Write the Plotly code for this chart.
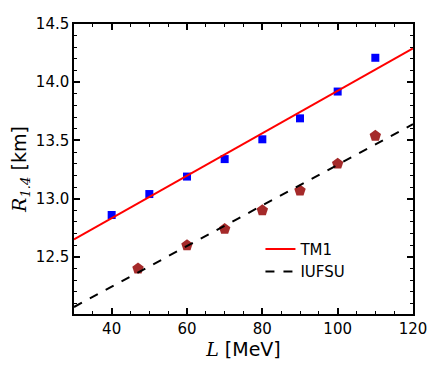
import plotly.graph_objects as go

# TM1 parameter set
tm1_L = [40, 50, 60, 70, 80, 90, 100, 110]
tm1_R = [12.86, 13.04, 13.19, 13.34, 13.51, 13.69, 13.92, 14.21]

# IUFSU parameter set
iufsu_L = [47, 60, 70, 80, 90, 100, 110]
iufsu_R = [12.40, 12.60, 12.74, 12.90, 13.07, 13.30, 13.54]

# linear fits, read at the plot edges
fit_L = [30, 120]
tm1_fit = [12.65, 14.29]
iufsu_fit = [12.07, 13.64]

fig = go.Figure()

fig.add_trace(go.Scatter(
    x=tm1_L, y=tm1_R, mode='markers', showlegend=False,
    marker=dict(symbol='square', size=8, color='#0000ff'),
))
fig.add_trace(go.Scatter(
    x=iufsu_L, y=iufsu_R, mode='markers', showlegend=False,
    marker=dict(symbol='pentagon', size=12, color='#a52a2a'),
))
fig.add_trace(go.Scatter(
    x=fit_L, y=tm1_fit, mode='lines', name='TM1',
    line=dict(color='#ff0000', width=2),
))
fig.add_trace(go.Scatter(
    x=fit_L, y=iufsu_fit, mode='lines', name='IUFSU',
    line=dict(color='black', width=2, dash='dash'),
))

axis_style = dict(
    showline=True, linecolor='black', linewidth=1.5, mirror='ticks',
    ticks='inside', ticklen=6, tickwidth=1.5, tickcolor='black',
    showgrid=False, zeroline=False,
    tickfont=dict(family='DejaVu Sans', size=15, color='black'),
)
math = '<span style="font-family:DejaVu Serif"><i>{}</i></span>'

fig.update_xaxes(
    range=[30, 120], tickvals=[40, 60, 80, 100, 120],
    minor=dict(dtick=5, ticks='inside', ticklen=3, tickwidth=1.2, tickcolor='black'),
    title=dict(text=math.format('L') + ' [MeV]', font=dict(family='DejaVu Sans', size=19, color='black'), standoff=4),
    **axis_style,
)
fig.update_yaxes(
    range=[12.01, 14.5], tickvals=[12.5, 13.0, 13.5, 14.0, 14.5], tickformat='.1f',
    minor=dict(dtick=0.1, ticks='inside', ticklen=3, tickwidth=1.2, tickcolor='black'),
    title=dict(text=math.format('R') + '<sub><span style="font-family:DejaVu Serif"><i>1.4</i></span></sub> [km]',
               font=dict(family='DejaVu Sans', size=19, color='black'), standoff=8),
    **axis_style,
)

# the page body adds an 8px margin, so the figure is drawn 8px smaller
fig.update_layout(
    width=428, height=359,
    margin=dict(l=66, r=23, t=7, b=53),
    plot_bgcolor='white', paper_bgcolor='white',
    legend=dict(
        x=0.55, y=0.28, xanchor='left', yanchor='top',
        bgcolor='rgba(0,0,0,0)', font=dict(family='DejaVu Sans', size=15, color='black'),
    ),
)

fig.write_html("out.html")
